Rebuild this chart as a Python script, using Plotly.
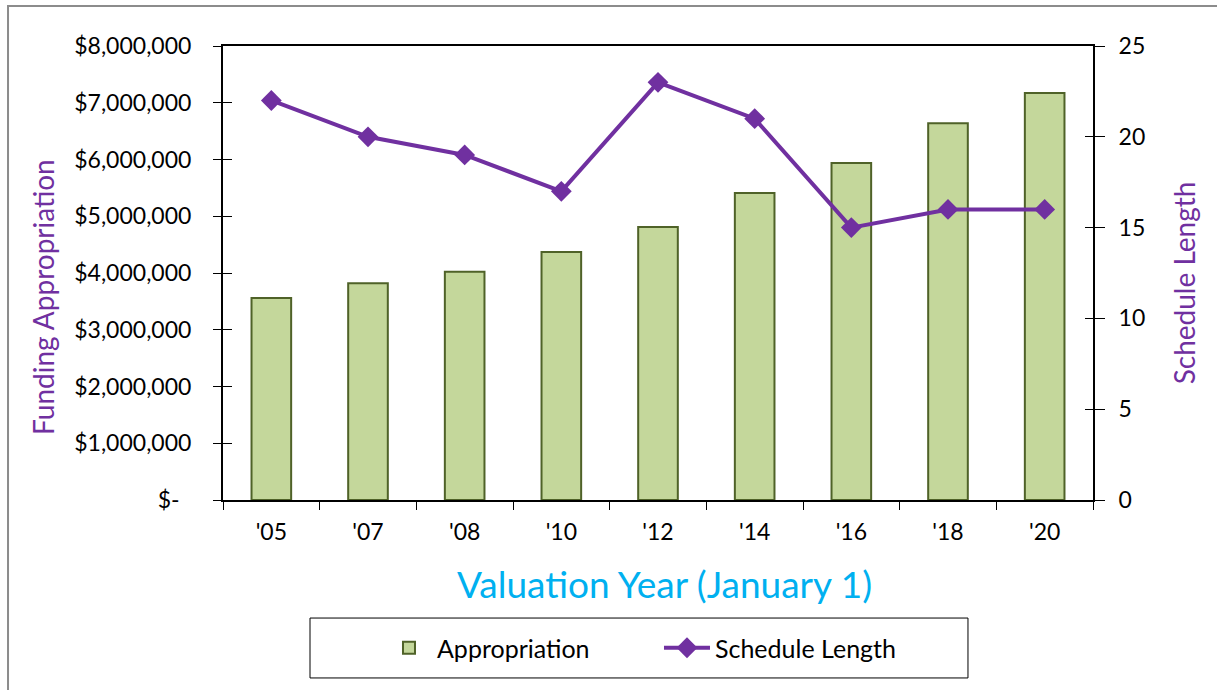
import plotly.graph_objects as go

years = ["'05", "'07", "'08", "'10", "'12", "'14", "'16", "'18", "'20"]
appropriation = [3560000, 3820000, 4020000, 4370000, 4810000, 5410000, 5940000, 6640000, 7170000]
schedule_length = [22, 20, 19, 17, 23, 21, 15, 16, 16]

left_tickvals = [0, 1000000, 2000000, 3000000, 4000000, 5000000, 6000000, 7000000, 8000000]
left_ticktext = ["$-\u00a0\u00a0", "$1,000,000", "$2,000,000", "$3,000,000", "$4,000,000",
                 "$5,000,000", "$6,000,000", "$7,000,000", "$8,000,000"]
right_tickvals = [0, 5, 10, 15, 20, 25]

FONT = "Lato"
PURPLE = "#7030A0"

fig = go.Figure()
fig.add_trace(go.Bar(
    x=years, y=appropriation, name="Appropriation",
    marker=dict(color="#C4D79B", line=dict(color="#4F6228", width=2)),
    yaxis="y", xaxis="x",
))
fig.add_trace(go.Scatter(
    x=years, y=schedule_length, name="Schedule Length", mode="lines+markers",
    line=dict(color=PURPLE, width=4),
    marker=dict(symbol="diamond", size=16, color=PURPLE),
    yaxis="y2", xaxis="x",
))

axis_font = dict(family=FONT, size=23, color="#000000")

fig.update_layout(
    width=1217, height=690,
    margin=dict(l=223, r=124, t=46, b=190, autoexpand=False),
    paper_bgcolor="white", plot_bgcolor="white",
    font=dict(family=FONT, color="#000000"),
    bargap=0.59,
    showlegend=True,
    legend=dict(
        orientation="h", x=0.1816, xanchor="left", y=-0.326, yanchor="middle",
        borderwidth=0, bgcolor="rgba(0,0,0,0)",
        font=dict(family=FONT, size=25, color="#000000"),
        itemwidth=46, entrywidth=217, entrywidthmode="pixels",
    ),
    xaxis=dict(
        type="category", range=[-0.5, len(years) - 0.5], autorange=False,
        showline=True, linecolor="#000000", linewidth=2, mirror=True,
        ticks="outside", tickson="boundaries", ticklen=8, tickcolor="#000000", tickwidth=1,
        tickfont=axis_font, showgrid=False, zeroline=False, ticklabelstandoff=10,
        automargin=False,
    ),
    yaxis=dict(
        range=[0, 8000000], tickvals=left_tickvals, ticktext=left_ticktext,
        showline=True, linecolor="#000000", linewidth=2,
        ticks="outside", ticklen=8, tickcolor="#000000", tickwidth=1,
        tickfont=axis_font, showgrid=False, zeroline=False, ticklabelstandoff=17,
        automargin=False,
    ),
    yaxis2=dict(
        range=[0, 25], tickvals=right_tickvals, overlaying="y", side="right", anchor="x",
        showline=True, linecolor="#000000", linewidth=2,
        ticks="outside", ticklen=10, tickcolor="#000000", tickwidth=1,
        tickfont=axis_font, showgrid=False, zeroline=False, ticklabelstandoff=9,
        automargin=False,
    ),
    yaxis3=dict(
        range=[0, 8000000], tickvals=left_tickvals, overlaying="y", side="left", anchor="x",
        showticklabels=False, ticks="inside", ticklen=9, tickcolor="#000000", tickwidth=1,
        showgrid=False, zeroline=False, showline=False, automargin=False,
    ),
    yaxis4=dict(
        range=[0, 25], tickvals=right_tickvals, overlaying="y", side="right", anchor="x",
        showticklabels=False, ticks="inside", ticklen=8, tickcolor="#000000", tickwidth=1,
        showgrid=False, zeroline=False, showline=False, automargin=False,
    ),
)

# invisible traces so the inside-tick overlay axes are drawn
fig.add_trace(go.Scatter(x=[years[0]], y=[0], yaxis="y3", mode="markers",
                         marker=dict(opacity=0), showlegend=False, hoverinfo="skip"))
fig.add_trace(go.Scatter(x=[years[0]], y=[0], yaxis="y4", mode="markers",
                         marker=dict(opacity=0), showlegend=False, hoverinfo="skip"))

fig.add_annotation(text="Funding Appropriation", xref="paper", yref="paper",
                   x=-0.207, y=0.447, xanchor="center", yanchor="middle",
                   textangle=-90, showarrow=False,
                   font=dict(family=FONT, size=28, color=PURPLE))
fig.add_annotation(text="Schedule Length", xref="paper", yref="paper",
                   x=1.105, y=0.478, xanchor="center", yanchor="middle",
                   textangle=-90, showarrow=False,
                   font=dict(family=FONT, size=28, color=PURPLE))
fig.add_annotation(text="Valuation Year (January 1)", xref="paper", yref="paper",
                   x=0.507, y=-0.183, xanchor="center", yanchor="middle", showarrow=False,
                   font=dict(family=FONT, size=37, color="#00B0F0"))

# outer chart frame
fig.add_shape(type="rect", xref="paper", yref="paper",
              x0=-0.2471, x1=1.3, y0=-0.6, y1=1.088,
              line=dict(color="#8C8C8C", width=2), fillcolor="rgba(0,0,0,0)", layer="below")
# legend frame
fig.add_shape(type="rect", xref="paper", yref="paper",
              x0=0.1, x1=0.8563, y0=-0.392, y1=-0.26,
              line=dict(color="#000000", width=1), fillcolor="white", layer="below")

fig.write_html("out.html", config={"displayModeBar": False},
               post_script="document.body.style.margin='0';")
